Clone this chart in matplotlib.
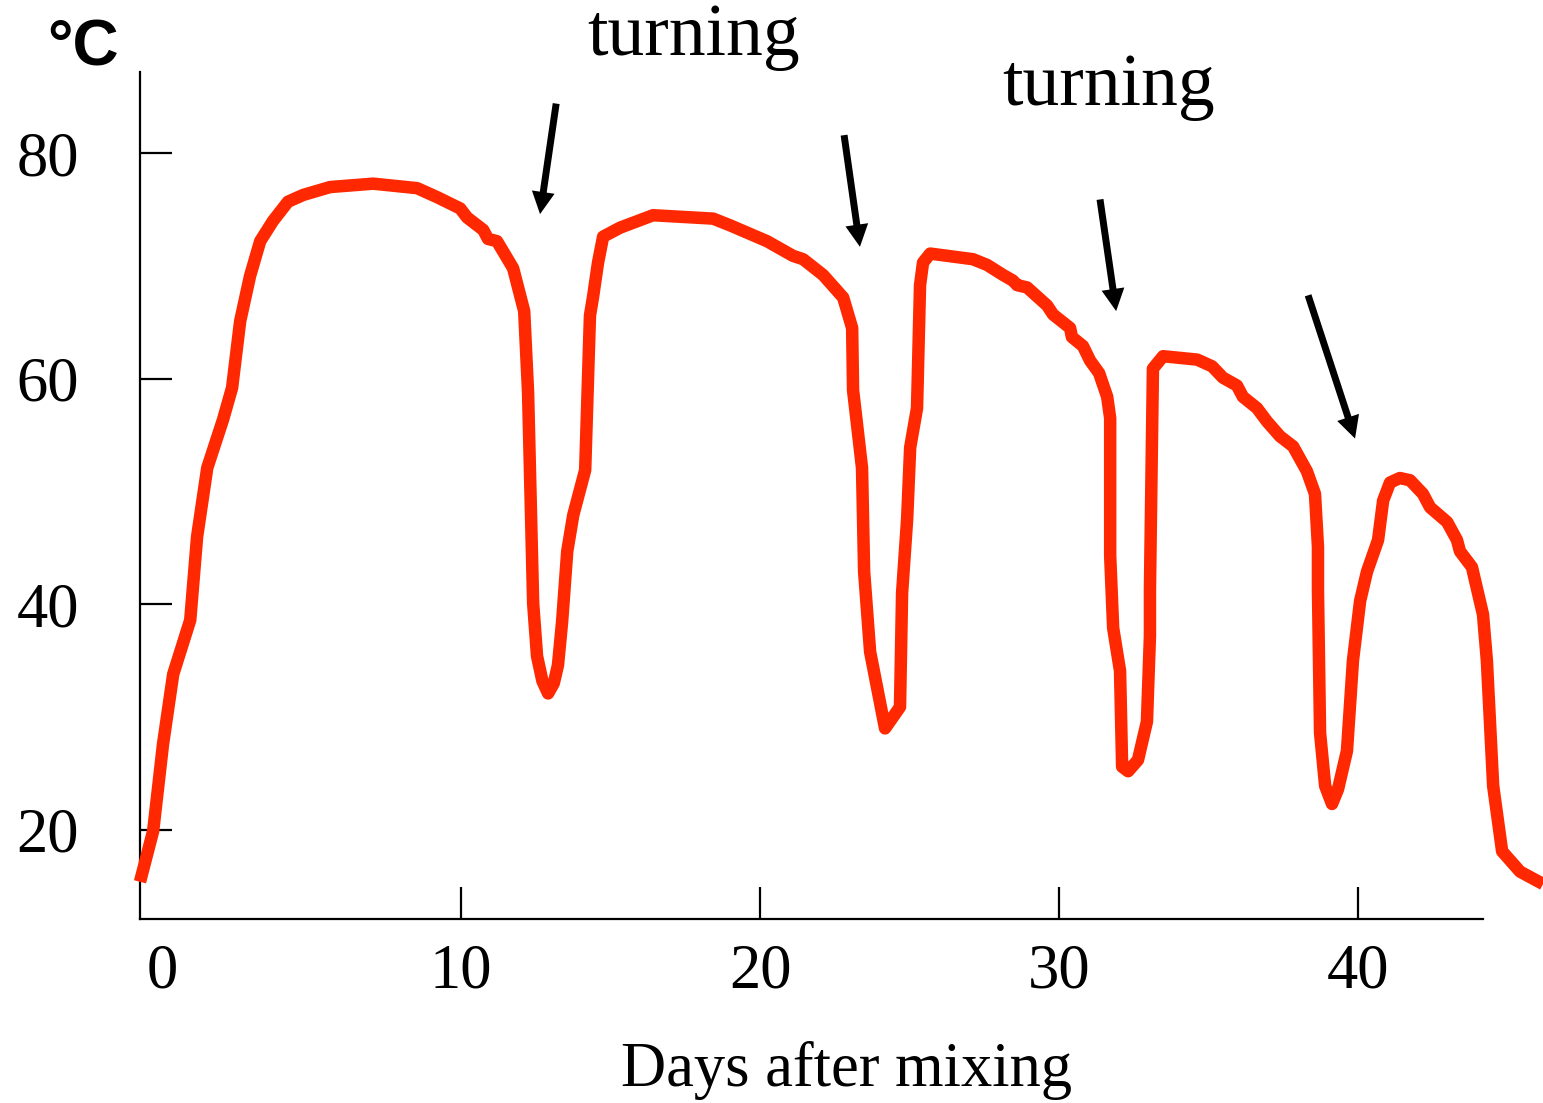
import matplotlib
matplotlib.use('Agg')
import matplotlib.pyplot as plt

# compost temperature trace
days = [-0.74, -0.30, 0.03, 0.37, 0.94, 1.17, 1.51, 2.04, 2.34, 2.61,
        2.94, 3.28, 3.71, 4.21, 4.72, 5.62, 7.06, 8.53, 9.20, 9.97,
        10.20, 10.74, 10.90, 11.20, 11.74, 12.11, 12.24, 12.31, 12.37, 12.41,
        12.54, 12.72, 12.91, 13.10, 13.24, 13.38, 13.55, 13.75, 14.15, 14.31, 14.41, 14.58,
        14.75, 15.32, 16.42, 18.43, 19.00, 20.23, 21.10, 21.44, 22.11, 22.78,
        23.08, 23.11, 23.41, 23.48, 23.68, 24.18, 24.68, 24.75, 24.92, 25.02,
        25.25, 25.35, 25.45, 25.69, 27.12, 27.59, 28.13, 28.46, 28.60, 28.93,
        29.60, 29.80, 30.37, 30.43, 30.80, 31.04, 31.34, 31.61, 31.71, 31.71,
        31.81, 32.04, 32.11, 32.31, 32.64, 32.94, 33.04, 33.04, 33.14, 33.48,
        34.62, 35.12, 35.48, 35.95, 36.15, 36.62, 36.96, 37.39, 37.83, 38.29,
        38.56, 38.66, 38.66, 38.73, 38.90, 39.13, 39.33, 39.63, 39.83, 40.07,
        40.30, 40.67, 40.84, 41.07, 41.40, 41.74, 42.17, 42.41, 42.98, 43.31,
        43.41, 43.81, 44.18, 44.31, 44.52, 44.82, 45.42, 46.19]
temp = [15.4, 19.9, 27.6, 33.8, 38.6, 46.0, 52.1, 56.4, 59.2, 65.1,
        69.1, 72.2, 74.0, 75.7, 76.3, 77.0, 77.3, 76.9, 76.1, 75.1,
        74.3, 73.2, 72.4, 72.2, 69.8, 66.0, 58.8, 51.0, 44.7, 40.1,
        35.4, 33.2, 32.1, 33.0, 34.6, 38.5, 44.7, 47.9, 51.9, 65.6, 67.2, 70.3,
        72.6, 73.4, 74.5, 74.2, 73.6, 72.2, 70.9, 70.6, 69.2, 67.2,
        64.5, 59.0, 52.1, 42.9, 35.8, 29.0, 30.9, 41.0, 47.6, 53.9,
        57.4, 68.3, 70.3, 71.1, 70.6, 70.1, 69.2, 68.7, 68.3, 68.1,
        66.5, 65.7, 64.5, 63.7, 62.9, 61.6, 60.5, 58.4, 56.5, 44.3,
        37.9, 34.1, 25.6, 25.2, 26.2, 29.6, 37.2, 41.3, 60.9, 62.0,
        61.7, 61.1, 60.1, 59.4, 58.4, 57.4, 56.2, 54.9, 54.0, 51.8,
        49.8, 45.1, 41.3, 28.6, 23.9, 22.3, 23.6, 27.0, 35.0, 40.3,
        42.9, 45.7, 49.2, 50.8, 51.2, 51.0, 49.8, 48.6, 47.3, 45.7,
        44.7, 43.3, 39.1, 35.0, 23.9, 18.1, 16.3, 15.2]

x_ticks = [0, 10, 20, 30, 40]
y_ticks = [20, 40, 60, 80]

# turning arrows: (tail day, tail temp, head day, head temp)
arrows = [(13.18, 84.4, 12.64, 74.6),
          (22.81, 81.6, 23.34, 71.7),
          (31.37, 75.9, 31.91, 66.0),
          (38.33, 67.4, 39.90, 54.7)]

serif = ['Liberation Serif', 'DejaVu Serif']

fig = plt.figure(figsize=(15.43, 11.03), dpi=100)
ax = fig.add_axes([140 / 1543, 1 - 919 / 1103, 1343 / 1543, 847 / 1103])

ax.plot(days, temp, color='#ff2800', lw=9, solid_joinstyle='round',
        solid_capstyle='butt', clip_on=False, zorder=3)

ax.set_xlim(-0.74, 44.18)
ax.set_ylim(12.1, 87.2)

for s in ['top', 'right']:
    ax.spines[s].set_visible(False)
for s in ['left', 'bottom']:
    ax.spines[s].set_linewidth(1.6)

ax.set_xticks(x_ticks)
ax.set_yticks(y_ticks)
ax.tick_params(direction='in', length=23, width=1.6)
ax.tick_params(axis='y', pad=44)
ax.tick_params(axis='x', pad=18)
ax.xaxis.get_major_ticks()[0].tick1line.set_visible(False)
for lab in ax.get_xticklabels() + ax.get_yticklabels():
    lab.set_family(serif)
    lab.set_fontsize(45)

ax.set_xlabel('Days after mixing', family=serif, fontsize=45)
ax.xaxis.set_label_coords(0.526, -0.197)
ax.xaxis.label.set_va('baseline')

for x0, y0, x1, y1 in arrows:
    ax.annotate('', xy=(x1, y1), xytext=(x0, y0),
                arrowprops=dict(width=5, headwidth=16.5, headlength=16,
                                shrink=0, facecolor='black', edgecolor='none'),
                annotation_clip=False)

fig.text(587 / 1543, 1 - 55 / 1103, 'turning', family=serif, fontsize=53,
         ha='left', va='baseline')
fig.text(1002 / 1543, 1 - 105 / 1103, 'turning', family=serif, fontsize=53,
         ha='left', va='baseline')

fig.text(47 / 1543, 1 - 65 / 1103, '°C', family=['Liberation Sans', 'DejaVu Sans'],
         fontsize=46, fontweight='bold', ha='left', va='baseline')

fig.savefig('out.png', dpi=100)
